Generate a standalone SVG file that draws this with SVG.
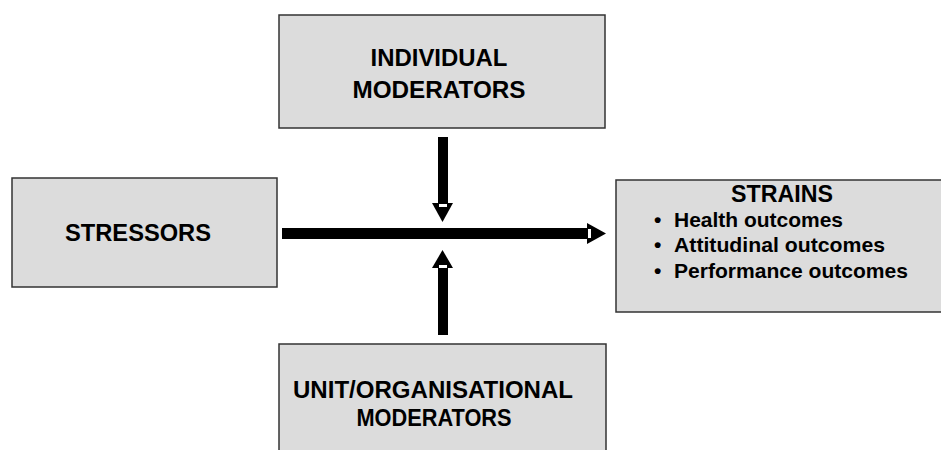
<svg xmlns="http://www.w3.org/2000/svg" width="941" height="450" viewBox="0 0 941 450">
  <style>
    .box { fill: #dcdcdc; stroke: #333333; stroke-width: 1.5; }
    .label { font-family: "Liberation Sans", Arial, sans-serif; font-weight: bold; font-size: 24px; fill: #000; }
    .item { font-family: "Liberation Sans", Arial, sans-serif; font-weight: bold; font-size: 21px; fill: #000; }
    .arrow { fill: #000; }
    .gap { fill: #fff; }
  </style>
  <rect width="941" height="450" fill="#ffffff"/>

  <g id="individual-moderators">
    <rect class="box" x="279" y="15" width="326" height="113"/>
    <text class="label" x="439" y="66" text-anchor="middle" textLength="137" lengthAdjust="spacingAndGlyphs">INDIVIDUAL</text>
    <text class="label" x="439" y="98" text-anchor="middle" textLength="173" lengthAdjust="spacingAndGlyphs">MODERATORS</text>
  </g>

  <g id="stressors">
    <rect class="box" x="12" y="178" width="265" height="109"/>
    <text class="label" x="138" y="241" text-anchor="middle" textLength="146" lengthAdjust="spacingAndGlyphs">STRESSORS</text>
  </g>

  <g id="strains">
    <rect class="box" x="616" y="180" width="335" height="132"/>
    <text class="label" x="782" y="202" text-anchor="middle" textLength="102" lengthAdjust="spacingAndGlyphs">STRAINS</text>
    <text class="item" x="654" y="227">•</text>
    <text class="item" x="674" y="227" textLength="169" lengthAdjust="spacingAndGlyphs">Health outcomes</text>
    <text class="item" x="654" y="252">•</text>
    <text class="item" x="674" y="252" textLength="211" lengthAdjust="spacingAndGlyphs">Attitudinal outcomes</text>
    <text class="item" x="654" y="278">•</text>
    <text class="item" x="674" y="278" textLength="234" lengthAdjust="spacingAndGlyphs">Performance outcomes</text>
  </g>

  <g id="unit-organisational-moderators">
    <rect class="box" x="279" y="344" width="327" height="120"/>
    <text class="label" x="433" y="398" text-anchor="middle" textLength="280" lengthAdjust="spacingAndGlyphs">UNIT/ORGANISATIONAL</text>
    <text class="label" x="434" y="426" text-anchor="middle" textLength="155" lengthAdjust="spacingAndGlyphs">MODERATORS</text>
  </g>

  <g id="connectors">
    <!-- stressors to strains -->
    <rect class="arrow" x="282" y="228" width="306" height="11"/>
    <polygon class="arrow" points="587,223 606,233.5 587,244"/>
    <rect class="gap" x="588" y="229" width="3" height="9"/>
    <!-- individual moderators, pointing down -->
    <rect class="arrow" x="438" y="137" width="10" height="67"/>
    <polygon class="arrow" points="432,203 453,203 442.5,222"/>
    <rect class="gap" x="439" y="204" width="8" height="3"/>
    <!-- unit/organisational moderators, pointing up -->
    <rect class="arrow" x="438" y="267" width="10" height="68"/>
    <polygon class="arrow" points="432,268 453,268 442.5,250"/>
    <rect class="gap" x="439" y="265" width="8" height="3"/>
  </g>
</svg>
